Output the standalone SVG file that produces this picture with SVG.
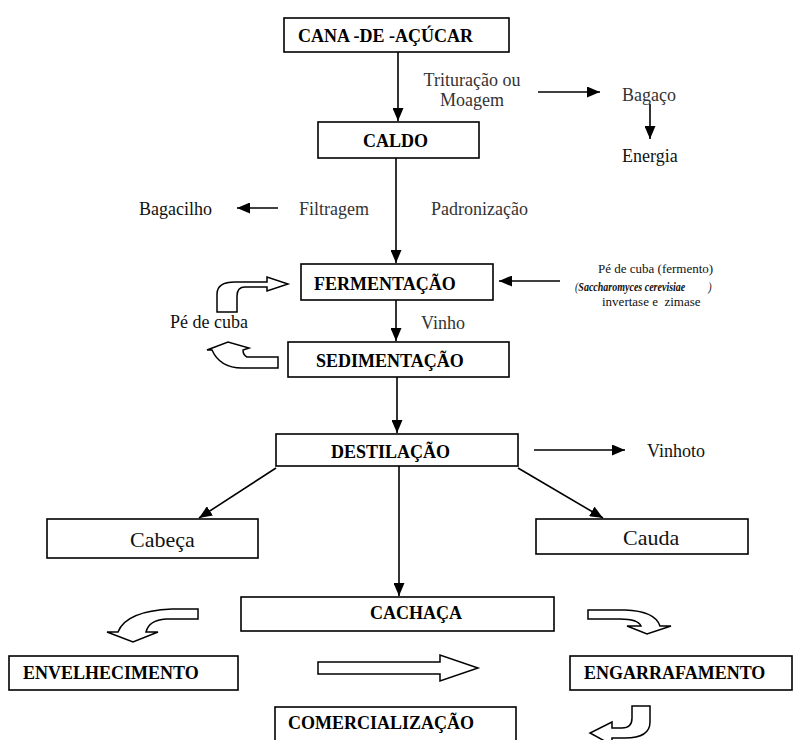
<svg xmlns="http://www.w3.org/2000/svg" width="793" height="740" viewBox="0 0 793 740" font-family="'Liberation Serif', 'Times New Roman', serif">
<style>
  .box { fill: #fff; stroke: #000; stroke-width: 1.6; }
  text { font-family: "Times New Roman", "Liberation Serif", serif; }
  .b { font-weight: bold; font-size: 18px; fill: #000; }
  .r { font-size: 18px; fill: #111; }
  .g { font-size: 18px; fill: #333; }
  .big { font-size: 22px; fill: #111; }
  .s { font-size: 13px; fill: #111; white-space: pre; }
  .line { stroke: #000; stroke-width: 1.6; fill: none; marker-end: url(#ah); }
  .blk { fill: #fff; stroke: #000; stroke-width: 1.5; stroke-linejoin: miter; }
</style>
<defs>
  <marker id="ah" markerUnits="userSpaceOnUse" markerWidth="13" markerHeight="11" refX="13" refY="5.5" orient="auto">
    <path d="M0,0 L13,5.5 L0,11 Z" fill="#000"/>
  </marker>
</defs>
<rect width="793" height="740" fill="#fff"/>

<g id="connectors">
  <line class="line" x1="398" y1="52" x2="398" y2="121"/>
  <line class="line" x1="538" y1="92" x2="600" y2="92"/>
  <line class="line" x1="650" y1="104" x2="650" y2="139"/>
  <line class="line" x1="396" y1="158" x2="396" y2="263"/>
  <line class="line" x1="278" y1="208" x2="237" y2="208"/>
  <line class="line" x1="560" y1="281" x2="499" y2="281"/>
  <line class="line" x1="396" y1="300" x2="396" y2="341"/>
  <line class="line" x1="397" y1="377" x2="397" y2="433"/>
  <line class="line" x1="534" y1="450" x2="625" y2="450"/>
  <line class="line" x1="276" y1="468" x2="199" y2="518"/>
  <line class="line" x1="518" y1="468" x2="603" y2="518"/>
  <line class="line" x1="399" y1="466" x2="399" y2="596"/>
  <path class="blk" d="M217,312 L217,294 Q217,282 235,282 L267,282 L267,277 L288,284 L267,291 L267,287 L245,287 Q237,287 237,296 L237,312 Z"/>
  <path class="blk" d="M278,357 L247,357 Q243,355 243,350 L249,348 L228,342 L207,350 L212,350 Q220,368 242,368 L278,368 Z"/>
  <path class="blk" d="M198,609 L172,609 Q126,611 118,632 L107,632 L133,642 L158,632 L146,632 Q149,620 166,619 L198,619 Z"/>
  <path class="blk" d="M318,662 L440,662 L440,655 L478,668 L440,681 L440,674 L318,674 Z"/>
  <path class="blk" d="M588,610 L625,610 Q655,611 660,626 L671,626 L647,634 L627,626 L641,626 Q638,619 620,619 L588,619 Z"/>
  <path class="blk" d="M632,706 L650,706 L650,722 Q650,738 625,738 L612,738 L612,745 L590,733 L612,722 L612,728 L622,728 Q632,728 632,718 Z"/>
</g>

<g id="cana"><rect class="box" x="284" y="18" width="225" height="34"/><text class="b" x="298" y="42">CANA -DE -AÇÚCAR</text></g>
<g id="caldo"><rect class="box" x="318" y="122" width="161" height="36"/><text class="b" x="363" y="147">CALDO</text></g>
<g id="fermentacao"><rect class="box" x="301" y="264" width="192" height="36"/><text class="b" x="314" y="290">FERMENTAÇÃO</text></g>
<g id="sedimentacao"><rect class="box" x="288" y="342" width="221" height="35"/><text class="b" x="316" y="367">SEDIMENTAÇÃO</text></g>
<g id="destilacao"><rect class="box" x="276" y="434" width="242" height="32"/><text class="b" x="331" y="458">DESTILAÇÃO</text></g>
<g id="cabeca"><rect class="box" x="47" y="519" width="211" height="39"/><text class="big" x="130" y="547">Cabeça</text></g>
<g id="cauda"><rect class="box" x="536" y="519" width="212" height="35"/><text class="big" x="623" y="545">Cauda</text></g>
<g id="cachaca"><rect class="box" x="241" y="597" width="313" height="34"/><text class="b" x="370" y="619">CACHAÇA</text></g>
<g id="envelhecimento"><rect class="box" x="9" y="656" width="229" height="34"/><text class="b" x="23" y="679">ENVELHECIMENTO</text></g>
<g id="engarrafamento"><rect class="box" x="570" y="656" width="222" height="34"/><text class="b" x="584" y="679">ENGARRAFAMENTO</text></g>
<g id="comercializacao"><rect class="box" x="275" y="707" width="241" height="40"/><text class="b" x="288" y="729">COMERCIALIZAÇÃO</text></g>

<g id="labels">
  <text class="g" x="472" y="86" text-anchor="middle">Trituração ou</text>
  <text class="g" x="472" y="106" text-anchor="middle">Moagem</text>
  <text class="g" x="622" y="101">Bagaço</text>
  <text class="r" x="622" y="162">Energia</text>
  <text class="r" x="139" y="215">Bagacilho</text>
  <text class="g" x="299" y="215">Filtragem</text>
  <text class="g" x="431" y="215">Padronização</text>
  <text class="r" x="170" y="328">Pé de cuba</text>
  <text class="g" x="421" y="329">Vinho</text>
  <text class="r" x="647" y="457">Vinhoto</text>
  <text class="s" x="598" y="273">Pé de cuba (fermento)</text>
  <text class="s" transform="translate(575,291) scale(0.77,1)" x="0" y="0"><tspan font-style="italic">(</tspan><tspan font-weight="bold" font-style="italic">Saccharomyces cerevisiae</tspan><tspan x="173" font-style="italic">)</tspan></text>
  <text class="s" x="602" y="306">invertase e  zimase</text>
</g>
</svg>
